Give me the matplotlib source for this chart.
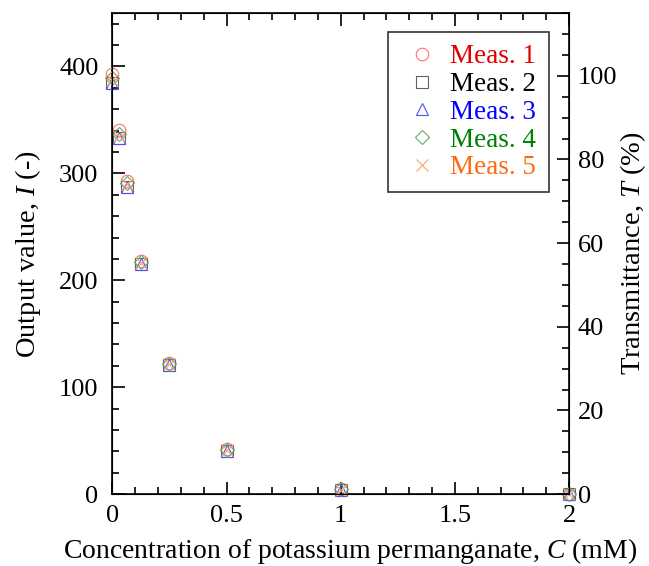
import matplotlib
matplotlib.use("Agg")
import matplotlib.pyplot as plt
from matplotlib.ticker import MultipleLocator

plt.rcParams['font.family'] = ['Liberation Serif', 'DejaVu Serif']
plt.rcParams['mathtext.fontset'] = 'custom'
plt.rcParams['mathtext.it'] = 'Liberation Serif:italic'
plt.rcParams['mathtext.rm'] = 'Liberation Serif'

conc = [0, 0.03125, 0.0625, 0.125, 0.25, 0.5, 1, 2]
meas1 = [393, 341, 293, 218, 123, 42, 5, 0]
meas2 = [385, 333, 287, 215, 121, 40, 4, 0]
meas3 = [385, 333, 287, 215, 121, 40, 4, 0]
meas4 = [389, 337, 291, 217, 122, 41, 5, 0]
meas5 = [387, 335, 290, 216, 122, 41, 4, 0]

labels = ['Meas. 1', 'Meas. 2', 'Meas. 3', 'Meas. 4', 'Meas. 5']
markers = ['o', 's', '^', 'D', 'x']
mcolors = ['#ff7070', '#606060', '#5050ff', '#60b060', '#ffa070']
tcolors = ['#e00000', '#000000', '#0000ff', '#008000', '#ff6a10']
msizes = [9, 9, 9, 7, 9]

fig = plt.figure(figsize=(6.49, 5.66), dpi=100)
ax = fig.add_axes([0.173, 0.127, 0.704, 0.85])

for y, lab, m, c, s in zip([meas1, meas2, meas3, meas4, meas5], labels, markers, mcolors, msizes):
    if m == 'x':
        ax.plot(conc, y, linestyle='none', marker=m, ms=s, color=c, mew=0.8,
                label=lab, clip_on=False, zorder=3)
    else:
        ax.plot(conc, y, linestyle='none', marker=m, ms=s, mfc='none', mec=c, mew=0.8,
                label=lab, clip_on=False, zorder=3)

ax.set_xlim(0, 2)
ax.set_ylim(0, 450)
ax.xaxis.set_major_locator(MultipleLocator(0.5))
ax.xaxis.set_minor_locator(MultipleLocator(0.1))
ax.yaxis.set_major_locator(MultipleLocator(100))
ax.yaxis.set_minor_locator(MultipleLocator(20))
ax.xaxis.set_major_formatter(plt.FuncFormatter(lambda v, p: '%g' % v))
ax.tick_params(which='both', direction='in', top=True, labelsize=19, width=1.2)
ax.tick_params(which='major', length=9)
ax.tick_params(which='minor', length=5)
ax.tick_params(axis='x', which='major', pad=8)
ax.tick_params(axis='y', which='major', pad=10)
ax.tick_params(axis='y', right=False)
for sp in ax.spines.values():
    sp.set_linewidth(1.2)

ax.set_xlabel('Concentration of potassium permanganate, $\\mathit{C}$ (mM)', fontsize=20)
ax.set_ylabel('Output value, $\\mathit{I}$ (-)', fontsize=20.5)
ax.xaxis.set_label_coords(0.52, -0.088)
ax.yaxis.set_label_coords(-0.152, 0.5)

ax2 = ax.twinx()
ax2.set_ylim(0, 115)
ax2.yaxis.set_major_locator(MultipleLocator(20))
ax2.yaxis.set_minor_locator(MultipleLocator(5))
ax2.tick_params(which='both', direction='in', labelsize=19, width=1.2)
ax2.tick_params(which='major', length=9, pad=6)
ax2.tick_params(which='minor', length=5)
ax2.set_ylabel('Transmittance, $\\mathit{T}$ (%)', fontsize=20.5)
ax2.yaxis.set_label_coords(1.108, 0.5)

leg = ax.legend(loc='upper right', bbox_to_anchor=(0.955, 0.96), fontsize=19.5,
                frameon=True, fancybox=False, edgecolor='black', handlelength=1.6,
                handletextpad=0.25, borderpad=0.45, labelspacing=0.1, borderaxespad=0)
leg.get_frame().set_linewidth(1.2)
for t, c in zip(leg.get_texts(), tcolors):
    t.set_color(c)

fig.savefig('out.png', dpi=100)
